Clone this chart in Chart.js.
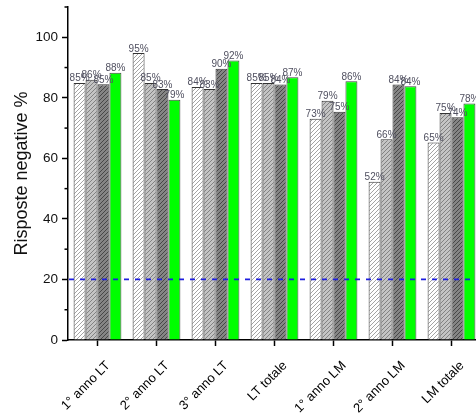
<!DOCTYPE html>
<html>
<head>
<meta charset="utf-8">
<script src="https://cdn.jsdelivr.net/npm/chart.js@4/dist/chart.umd.min.js"></script>
<style>
html,body{margin:0;padding:0;background:#fff;overflow:hidden;}
#wrap{width:482px;height:416px;position:relative;}
</style>
</head>
<body>
<div id="wrap"><canvas id="c"></canvas></div>
<script>
const categories = ['1° anno LT', '2° anno LT', '3° anno LT', 'LT totale', '1° anno LM', '2° anno LM', 'LM totale'];
const serie1 = [84.9, 94.8, 83.6, 84.9, 73.1, 52.3, 65.2];
const serie2 = [86.0, 84.9, 82.9, 84.9, 79.0, 66.3, 75.0];
const serie3 = [84.5, 82.9, 89.6, 84.4, 75.4, 84.4, 73.6];
const serie4 = [88.3, 79.4, 92.3, 86.8, 85.5, 83.8, 78.1];
const yTicks = [0, 20, 40, 60, 80, 100];
const yMinorTicks = [10, 30, 50, 70, 90, 110];
const yMax = 110;
const refLine = 20;

function hatch(bg, fg) {
  const s = 4;
  const cv = document.createElement('canvas');
  cv.width = s; cv.height = s;
  const g = cv.getContext('2d');
  g.fillStyle = bg; g.fillRect(0, 0, s, s);
  g.strokeStyle = fg; g.lineWidth = 0.9;
  g.beginPath();
  g.moveTo(-1, s + 1); g.lineTo(s + 1, -1);
  g.moveTo(-1, 1); g.lineTo(1, -1);
  g.moveTo(s - 1, s + 1); g.lineTo(s + 1, s - 1);
  g.stroke();
  return document.getElementById('c').getContext('2d').createPattern(cv, 'repeat');
}

const FONT = "'Liberation Sans', Arial, sans-serif";

const extras = {
  id: 'extras',
  afterDraw(chart) {
    const ctx = chart.ctx;
    const y = chart.scales.y, x = chart.scales.x;
    const ca = chart.chartArea;
    ctx.save();
    // minor ticks
    ctx.strokeStyle = '#000'; ctx.lineWidth = 1.5;
    yMinorTicks.forEach(v => {
      const py = y.getPixelForValue(v);
      ctx.beginPath(); ctx.moveTo(ca.left - 3.5, py); ctx.lineTo(ca.left, py); ctx.stroke();
    });
    // reference line
    const py = y.getPixelForValue(refLine);
    ctx.strokeStyle = '#1f1fe0'; ctx.lineWidth = 1.8; ctx.setLineDash([5, 6]);
    ctx.beginPath(); ctx.moveTo(ca.left + 1, py); ctx.lineTo(ca.right, py); ctx.stroke();
    ctx.setLineDash([]);
    // category labels (rotated 45°)
    ctx.font = '13px ' + FONT;
    ctx.fillStyle = '#000';
    ctx.textAlign = 'right'; ctx.textBaseline = 'top';
    categories.forEach((lab, i) => {
      const px = x.getPixelForValue(i);
      ctx.save();
      ctx.translate(px + 6, ca.bottom + 19);
      ctx.rotate(-Math.PI / 4);
      ctx.fillText(lab, 0, 0);
      ctx.restore();
    });
    // value labels
    ctx.font = '10px ' + FONT;
    ctx.fillStyle = '#505060';
    ctx.textAlign = 'center'; ctx.textBaseline = 'alphabetic';
    chart.data.datasets.forEach((ds, i) => {
      const meta = chart.getDatasetMeta(i);
      meta.data.forEach((bar, j) => {
        ctx.fillText(Math.round(ds.data[j]) + '%', bar.x, bar.y - 1.5);
      });
    });
    ctx.restore();
  }
};

const border = '#333';
new Chart(document.getElementById('c'), {
  type: 'bar',
  data: {
    labels: categories,
    datasets: [
      { data: serie1, backgroundColor: hatch('#ffffff', '#9a9a9a'), borderColor: border, borderWidth: 1 },
      { data: serie2, backgroundColor: hatch('#c4c4c4', '#7a7a7a'), borderColor: border, borderWidth: 1 },
      { data: serie3, backgroundColor: hatch('#858585', '#404040'), borderColor: border, borderWidth: 1 },
      { data: serie4, backgroundColor: '#00ff00', borderColor: '#444', borderWidth: 1 }
    ]
  },
  options: {
    responsive: true,
    maintainAspectRatio: false,
    animation: false,
    devicePixelRatio: 1,
    layout: { padding: { top: 7, right: 1, left: 0, bottom: 0 } },
    plugins: { legend: { display: false }, tooltip: { enabled: false } },
    datasets: { bar: { categoryPercentage: 0.81, barPercentage: 1.0 } },
    scales: {
      x: {
        offset: true,
        grid: { display: true, drawOnChartArea: false, offset: false, tickLength: 6, tickColor: '#000', tickWidth: 1.5 },
        border: { display: true, color: '#000', width: 1.5 },
        ticks: { display: false },
        afterFit(s) { s.height = 76; s.paddingLeft = 0; s.paddingRight = 0; }
      },
      y: {
        min: 0, max: yMax, bounds: 'data',
        afterBuildTicks(s) { s.ticks = yTicks.map(v => ({ value: v })); },
        afterFit(s) { s.width = 68; s.paddingTop = 0; s.paddingBottom = 0; },
        grid: { display: true, drawOnChartArea: false, tickLength: 6, tickColor: '#000', tickWidth: 1.5 },
        border: { display: true, color: '#000', width: 1.5 },
        ticks: { padding: 4, color: '#111', font: { family: FONT, size: 13.5 } },
        title: { display: true, text: 'Risposte negative %', color: '#111', padding: { top: 11, bottom: 0 }, font: { family: FONT, size: 18, weight: 'normal' } }
      }
    }
  },
  plugins: [extras]
});
</script>
</body>
</html>
